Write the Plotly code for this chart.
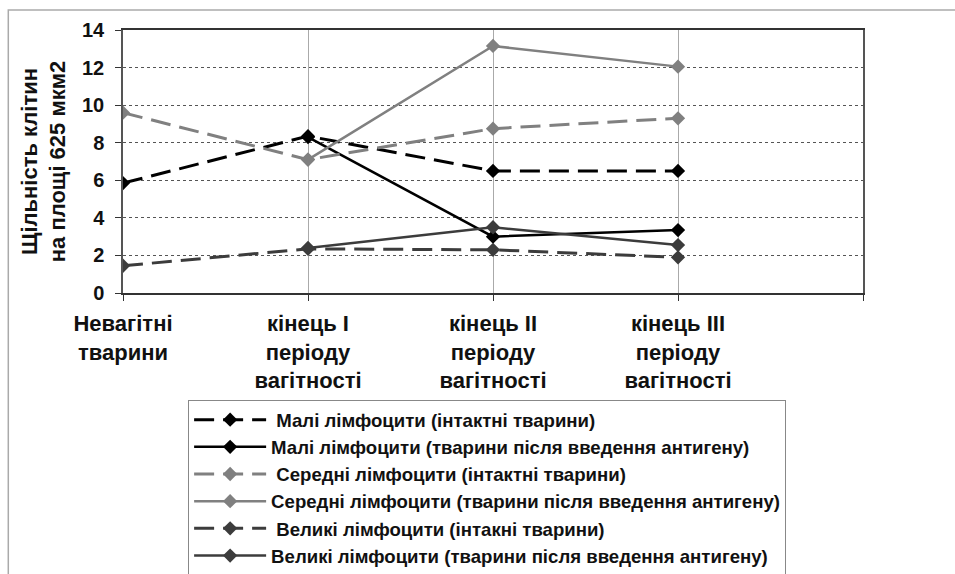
import plotly.graph_objects as go

categories = ["Невагітні<br>тварини", "кінець I<br>періоду<br>вагітності",
              "кінець II<br>періоду<br>вагітності", "кінець III<br>періоду<br>вагітності", ""]
x_pos = [0, 1, 2, 3]

series_names = [
    "Малі лімфоцити (інтактні тварини)",
    "Малі лімфоцити (тварини після введення антигену)",
    "Середні лімфоцити (інтактні тварини)",
    "Середні лімфоцити (тварини після введення антигену)",
    "Великі лімфоцити (інтакні тварини)",
    "Великі лімфоцити (тварини після введення антигену)",
]
small_intact = [5.85, 8.35, 6.5, 6.5]
small_antigen = [None, 8.3, 3.0, 3.35]
medium_intact = [9.6, 7.1, 8.75, 9.3]
medium_antigen = [None, 7.1, 13.15, 12.05]
large_intact = [1.45, 2.35, 2.3, 1.9]
large_antigen = [None, 2.4, 3.5, 2.55]

y_ticks = [0, 2, 4, 6, 8, 10, 12, 14]

styles = [
    dict(color="#000000", dash="20px,9px", width=3),
    dict(color="#000000", dash="solid", width=2.5),
    dict(color="#808080", dash="20px,9px", width=3),
    dict(color="#808080", dash="solid", width=2.5),
    dict(color="#3c3c3c", dash="20px,9px", width=3),
    dict(color="#3c3c3c", dash="solid", width=2.5),
]
values = [small_intact, small_antigen, medium_intact, medium_antigen, large_intact, large_antigen]

fig = go.Figure()
for i, (name, vals, st) in enumerate(zip(series_names, values, styles)):
    label = (" " + name) if st["dash"] != "solid" else name
    fig.add_trace(go.Scatter(
        x=x_pos, y=vals, name=label, mode="lines+markers",
        line=dict(color=st["color"], dash=st["dash"], width=st["width"]),
        marker=dict(symbol="diamond", size=11, color=st["color"]),
        legendgroup="g%d" % i,
    ))

bold_font = "Liberation Sans, Arial, sans-serif"

fig.update_layout(
    width=955, height=574,
    margin=dict(l=123, r=92, t=30, b=281, autoexpand=False),
    paper_bgcolor="white", plot_bgcolor="white",
    showlegend=True,
    legend=dict(
        x=0.088, y=-0.407, xanchor="left", yanchor="top",
        bordercolor="#888888", borderwidth=1,
        font=dict(family=bold_font, size=18.6, color="#111111", weight="bold"),
        itemwidth=72, tracegroupgap=0,
        bgcolor="white",
    ),
    shapes=[dict(type="rect", xref="paper", yref="paper",
                 x0=-0.155, x1=1.2, y0=-1.2, y1=1.076,
                 line=dict(color="#aaaaaa", width=1.5), layer="below")],
)

fig.update_xaxes(
    range=[0, 4], tickvals=[0, 1, 2, 3, 4], ticktext=categories,
    showgrid=True, gridcolor="#aaaaaa", gridwidth=1,
    showline=True, linecolor="#333333", linewidth=1.5, mirror=True,
    ticks="outside", ticklen=6, tickcolor="#333333",
    tickfont=dict(family=bold_font, size=22, color="#111111", weight="bold"),
    ticklabelstandoff=4,
    zeroline=False, fixedrange=True,
)
fig.update_yaxes(
    range=[0, 14], tickvals=y_ticks,
    showgrid=True, gridcolor="#555555", gridwidth=1, griddash="dot",
    showline=True, linecolor="#555555", linewidth=1.5, mirror=True,
    ticks="outside", ticklen=6, tickcolor="#333333",
    tickfont=dict(family=bold_font, size=20, color="#111111", weight="bold"),
    ticklabelstandoff=7,
    title=dict(text="Щільність клітин<br>на площі 625 мкм2",
               font=dict(family=bold_font, size=22, color="#111111", weight="bold"),
               standoff=10),
    zeroline=False, fixedrange=True,
)

fig.write_html("out.html", config={"displayModeBar": False},
               post_script="document.body.style.margin='0';")
